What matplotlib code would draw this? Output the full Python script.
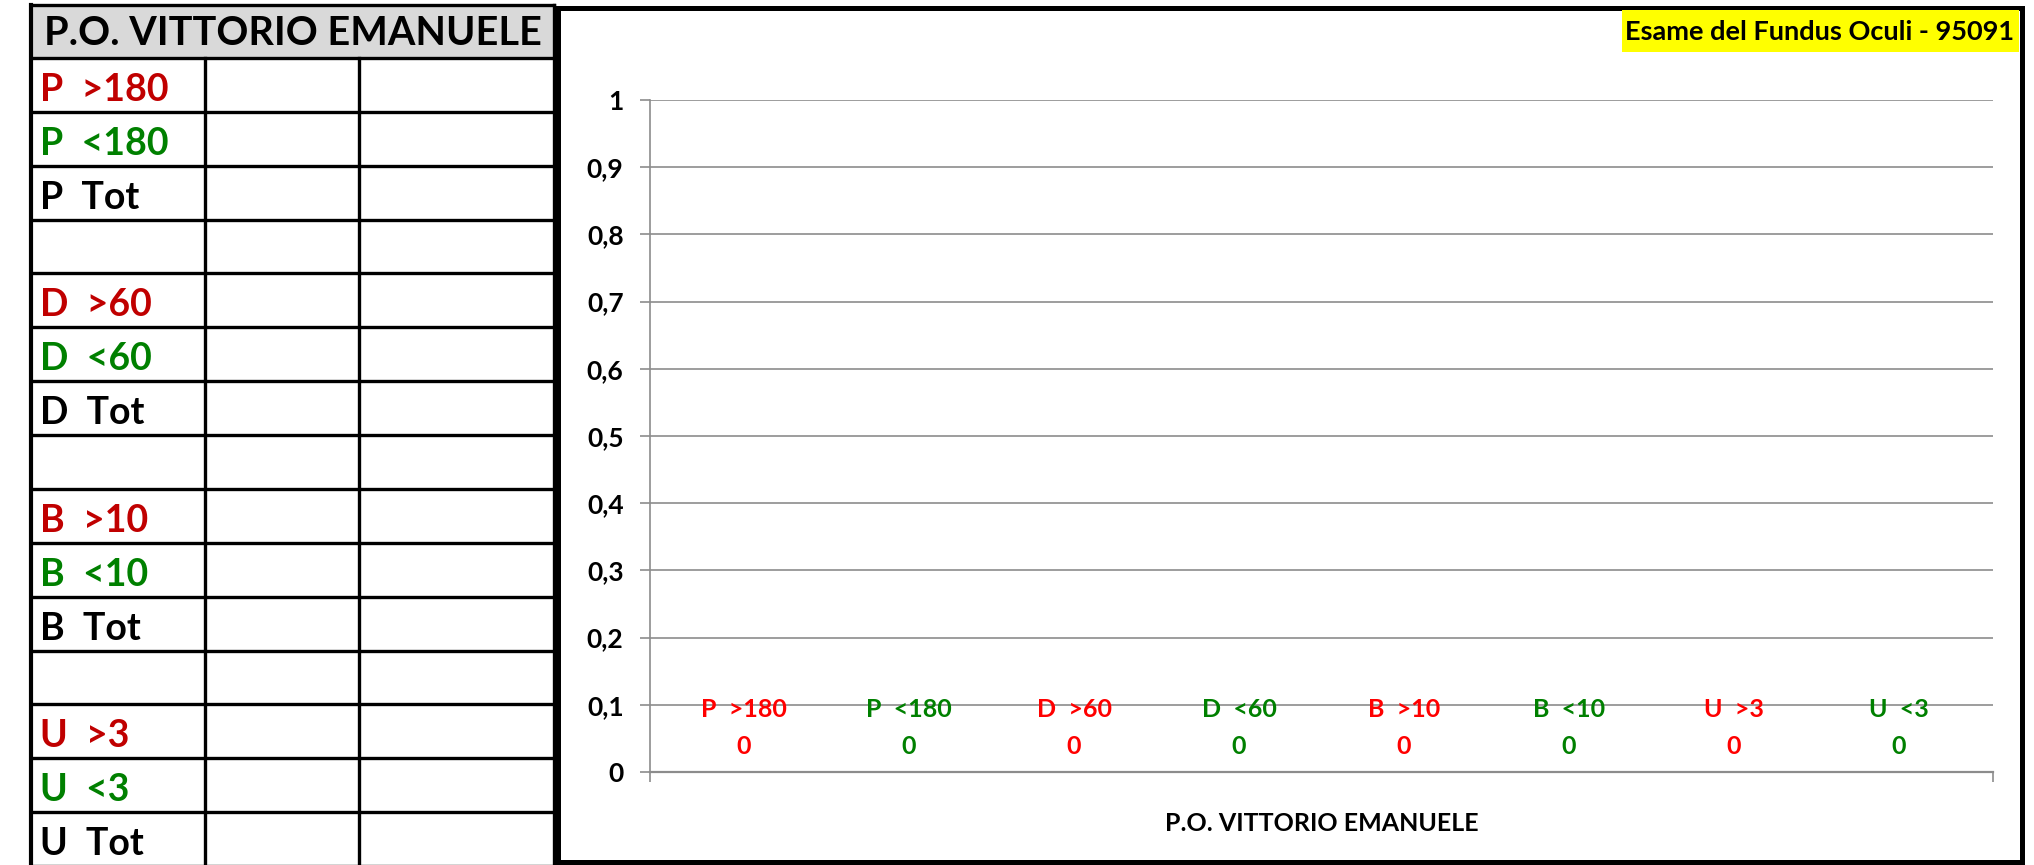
import numpy as np
import matplotlib.pyplot as plt
from matplotlib.patches import Rectangle

plt.rcParams['font.family'] = ['Lato', 'DejaVu Sans']
plt.rcParams['font.weight'] = 'bold'

# chart data
series = ['P  >180', 'P  <180', 'D  >60', 'D  <60', 'B  >10', 'B  <10', 'U  >3', 'U  <3']
values = [0, 0, 0, 0, 0, 0, 0, 0]
series_colors = ['#ff0000', '#008000'] * 4
yticks = [0, 0.1, 0.2, 0.3, 0.4, 0.5, 0.6, 0.7, 0.8, 0.9, 1]
ytick_labels = ['0', '0,1', '0,2', '0,3', '0,4', '0,5', '0,6', '0,7', '0,8', '0,9', '1']
group_name = 'P.O. VITTORIO EMANUELE'
title = 'Esame del Fundus Oculi - 95091'

# side table
table_rows = ['P  >180', 'P  <180', 'P  Tot', '',
              'D  >60', 'D  <60', 'D  Tot', '',
              'B  >10', 'B  <10', 'B  Tot', '',
              'U  >3', 'U  <3', 'U  Tot']
table_colors = ['#c00000', '#008000', 'black', 'black'] * 3 + ['#c00000', '#008000', 'black']

W, H = 2034, 865
fig = plt.figure(figsize=(W / 100, H / 100), dpi=100)
fig.patch.set_facecolor('white')

# pixel canvas for the table and frame
bg = fig.add_axes([0, 0, 1, 1], zorder=0)
bg.set_xlim(0, W)
bg.set_ylim(H, 0)
bg.axis('off')

tl, tr = 31, 554
cols = [tl, 205, 359, tr]
top, head_b = 5, 58
row_h = (H + 1 - head_b) / len(table_rows)
bg.add_patch(Rectangle((tl, top), tr - tl, head_b - top, facecolor='#d9d9d9', edgecolor='none'))
bg.text((tl + tr) / 2, (top + head_b) / 2 + 2, group_name, ha='center', va='center',
        fontsize=28.5, color='black')
lw = 2.4
bg.plot([tl, tr], [top, top], color='black', lw=lw)
bg.plot([tl, tr], [head_b, head_b], color='black', lw=lw)
bg.plot([tl, tl], [top, H], color='black', lw=3)
bg.plot([tr, tr], [top, H], color='black', lw=lw)
for c in cols[1:3]:
    bg.plot([c, c], [head_b, H], color='black', lw=lw)
for i, (lab, col) in enumerate(zip(table_rows, table_colors)):
    y0 = head_b + i * row_h
    bg.plot([tl, tr], [y0 + row_h, y0 + row_h], color='black', lw=lw)
    bg.text(tl + 9, y0 + row_h / 2 + 5, lab, ha='left', va='center', fontsize=27, color=col)

# chart frame
bg.add_patch(Rectangle((558, 8), 2022 - 558, 854, facecolor='none', edgecolor='black', lw=3.6))

# title box
bg.add_patch(Rectangle((1622, 10), 2019 - 1622, 42, facecolor='#ffff00', edgecolor='none'))
bg.text(2014, 32, title, ha='right', va='center', fontsize=19.5, color='black')

# chart axes
px0, px1, py0, py1 = 650, 1993, 772, 100
ax = fig.add_axes([px0 / W, 1 - py0 / H, (px1 - px0) / W, (py0 - py1) / H], zorder=1)
ax.patch.set_alpha(0)
x = np.arange(len(series))
ax.bar(x, values, width=0.8, color=series_colors)
ax.set_xlim(-0.57, len(series) - 0.43)
ax.set_ylim(0, 1)
ax.set_yticks(yticks)
ax.set_yticklabels(ytick_labels, fontsize=19)
ax.yaxis.grid(True, color='#8c8c8c', lw=1.2)
ax.set_axisbelow(True)
for s in ['top', 'right']:
    ax.spines[s].set_visible(False)
ax.spines['left'].set_color('#8c8c8c')
ax.spines['bottom'].set_color('#8c8c8c')
ax.spines['left'].set_linewidth(1.2)
ax.spines['bottom'].set_linewidth(1.6)
ax.tick_params(axis='y', length=7, width=1.2, color='#8c8c8c', pad=12)
ax.set_xticks([-0.57, len(series) - 0.43])
ax.set_xticklabels(['', ''])
ax.tick_params(axis='x', length=7, width=1.2, color='#8c8c8c')

for xi, v, name, col in zip(x, values, series, series_colors):
    ax.annotate(name, (xi, v), xytext=(0, 45), textcoords='offset points',
                ha='center', va='center', fontsize=18, color=col)
    ax.annotate(str(v), (xi, v), xytext=(0, 18), textcoords='offset points',
                ha='center', va='center', fontsize=18, color=col)

ax.text(0.5, -0.077, group_name, transform=ax.transAxes, ha='center', va='center',
        fontsize=18, color='black')

fig.savefig('out.png', dpi=100)
